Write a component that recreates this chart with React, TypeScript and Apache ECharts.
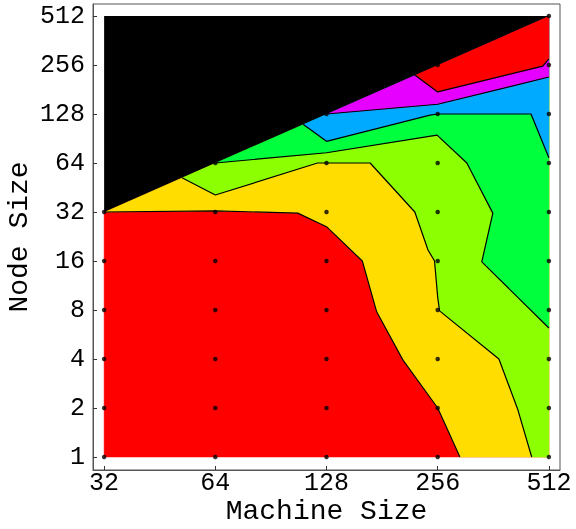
import React, { useEffect, useRef } from "react";
import * as echarts from "echarts";

// grid of measured configurations
const machineSizes = [32, 64, 128, 256, 512];
const nodeSizes = [1, 2, 4, 8, 16, 32, 64, 128, 256, 512];

// contour boundaries, as [machine size, node size], each from the upper-left edge to the lower/right edge
const contour1 = [[32, 32], [64, 32.5], [107, 31.5], [128, 26], [160, 16], [175, 7.8], [206, 3.95], [256, 2], [294, 1]];
const contour2 = [[52, 52], [64, 40.7], [121, 64], [168, 64], [222, 32], [241, 18.7], [251, 16], [256, 9.6], [259, 7.9], [375, 4], [422, 1.95], [460, 1]];
const contour3 = [[64, 64], [128, 74], [255, 95], [307, 64], [361, 31.5], [337, 15.8], [512, 6.2]];
const contour4 = [[110.6, 110.6], [128, 87], [244, 126], [256, 128], [458, 128], [512, 69]];
const contour5 = [[128, 128], [256, 147], [512, 216]];
const contour6 = [[222, 222], [256, 175], [493, 252], [512, 279]];

const contours = [contour1, contour2, contour3, contour4, contour5, contour6];
const bandColors = ["#ff0000", "#ffdd00", "#8cff00", "#00ff3c", "#00aaff", "#e600ff", "#ff0000"];
const noDataColor = "#000000";

const FONT = "'Liberation Mono', 'Courier New', monospace";

const lg = (p: number[]) => [Math.log2(p[0]), Math.log2(p[1])];
const x0 = Math.log2(machineSizes[0]);
const x1 = Math.log2(machineSizes[machineSizes.length - 1]);
const y0 = Math.log2(nodeSizes[0]);
const y1 = Math.log2(nodeSizes[nodeSizes.length - 1]);

// measured domain (node size <= machine size), counter-clockwise
const domain = [[x0, y0], [x1, y0], [x1, x1], [x0, x0]];
const segLens = domain.map((a, i) => {
  const b = domain[(i + 1) % domain.length];
  return Math.hypot(b[0] - a[0], b[1] - a[1]);
});
const cornerT: number[] = [];
{
  let acc = 0;
  for (const l of segLens) {
    cornerT.push(acc);
    acc += l;
  }
}
const total = segLens.reduce((s, v) => s + v, 0);

function perimT(p: number[]) {
  let best = Infinity;
  let bestT = 0;
  let acc = 0;
  for (let i = 0; i < domain.length; i++) {
    const a = domain[i];
    const b = domain[(i + 1) % domain.length];
    const dx = b[0] - a[0];
    const dy = b[1] - a[1];
    const len = segLens[i];
    let u = ((p[0] - a[0]) * dx + (p[1] - a[1]) * dy) / (len * len);
    u = Math.max(0, Math.min(1, u));
    const d = Math.hypot(a[0] + u * dx - p[0], a[1] + u * dy - p[1]);
    if (d < best - 1e-9) {
      best = d;
      bestT = acc + u * len;
    }
    acc += len;
  }
  return bestT;
}

function superlevel(line: number[][]) {
  const pts = line.map(lg);
  const tS = perimT(pts[0]);
  const tE = perimT(pts[pts.length - 1]);
  let span = tS - tE;
  if (span < 0) span += total;
  const extra = domain
    .map((c, i) => ({ c, d: (((cornerT[i] - tE) % total) + total) % total }))
    .filter((o) => o.d > 1e-9 && o.d < span - 1e-9)
    .sort((a, b) => a.d - b.d)
    .map((o) => o.c);
  return [...pts, ...extra];
}

const bandPolygons = [domain, ...contours.map(superlevel)];
const noDataPolygon = [[x0, x0], [x1, x1], [x0, y1]];

const samplePoints: number[][] = [];
for (const m of machineSizes) {
  for (const n of nodeSizes) {
    if (n <= m) samplePoints.push([Math.log2(m), Math.log2(n)]);
  }
}

const xTicks = machineSizes.map((v) => Math.log2(v));
const yTicks = nodeSizes.map((v) => Math.log2(v));
const pow2 = (v: number) => String(Math.round(Math.pow(2, v)));

export default function App() {
  const ref = useRef<HTMLDivElement>(null);
  useEffect(() => {
    const chart = echarts.init(ref.current!, null, { renderer: "svg" });
    const option: any = {
      animation: false,
      grid: {
        left: 93,
        right: 16,
        top: 4,
        bottom: 59,
        containLabel: false,
        outerBoundsMode: "none",
        show: true,
        borderColor: "#555",
        borderWidth: 1,
        backgroundColor: "transparent",
      },
      xAxis: {
        type: "value",
        min: 4.9,
        max: 9.1,
        name: "Machine Size",
        nameLocation: "middle",
        nameGap: 29,
        nameMoveOverlap: false,
        nameTextStyle: { fontFamily: FONT, fontSize: 28, lineHeight: 24, color: "#000" },
        axisLine: { show: true, onZero: false, lineStyle: { color: "#555" } },
        axisTick: { show: true, inside: true, length: 4, customValues: xTicks, lineStyle: { color: "#333" } },
        axisLabel: { customValues: xTicks, formatter: pow2, fontFamily: FONT, fontSize: 25, lineHeight: 20, color: "#000", margin: 3 },
        splitLine: { show: false },
      },
      yAxis: {
        type: "value",
        min: -0.265,
        max: 9.245,
        name: "Node Size",
        nameLocation: "middle",
        nameRotate: 90,
        nameGap: 60,
        nameMoveOverlap: false,
        nameTextStyle: { fontFamily: FONT, fontSize: 28, color: "#000" },
        axisLine: { show: true, onZero: false, lineStyle: { color: "#555" } },
        axisTick: { show: true, inside: true, length: 4, customValues: yTicks, lineStyle: { color: "#333" } },
        axisLabel: { customValues: yTicks, formatter: pow2, fontFamily: FONT, fontSize: 25, color: "#000", margin: 8 },
        splitLine: { show: false },
      },
      series: [
        {
          type: "custom",
          coordinateSystem: "cartesian2d",
          silent: true,
          z: 1,
          data: bandPolygons.map((_, i) => [i]),
          renderItem: (params: any, api: any) => {
            const poly = bandPolygons[params.dataIndex];
            return {
              type: "polygon",
              shape: { points: poly.map((p) => api.coord(p)) },
              style: { fill: bandColors[params.dataIndex], stroke: bandColors[params.dataIndex], lineWidth: 0.5 },
            };
          },
        },
        {
          type: "custom",
          coordinateSystem: "cartesian2d",
          silent: true,
          z: 2,
          data: [[0]],
          renderItem: (_params: any, api: any) => ({
            type: "polygon",
            shape: { points: noDataPolygon.map((p) => api.coord(p)) },
            style: { fill: noDataColor },
          }),
        },
        ...contours.map((c) => ({
          type: "line",
          silent: true,
          z: 3,
          symbol: "none",
          data: c.map(lg),
          lineStyle: { color: "#000", width: 1.2 },
        })),
        {
          type: "scatter",
          silent: true,
          z: 4,
          symbolSize: 4.5,
          itemStyle: { color: "#000" },
          data: samplePoints,
        },
      ],
    };
    chart.setOption(option);
    return () => chart.dispose();
  }, []);
  return <div ref={ref} style={{ position: "fixed", left: 0, top: 0, width: 576, height: 529 }} />;
}
